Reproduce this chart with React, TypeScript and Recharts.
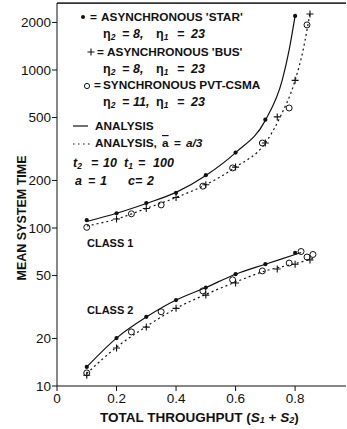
import React from "react";
import { ComposedChart, Line, Scatter, XAxis, YAxis, ReferenceLine } from "recharts";

// Mean system time vs total throughput, two priority classes (log y)

const W = 347;
const H = 429;
const INK = "#111";

const xTicks = [0, 0.2, 0.4, 0.6, 0.8];
const yTicks = [10, 20, 50, 100, 200, 500, 1000, 2000];

// analysis curves, class 1
const solid1: [number, number][] = [
  [0.1, 110], [0.2, 124], [0.3, 143], [0.4, 168], [0.5, 215], [0.6, 300],
  [0.7, 480], [0.757, 865], [0.78, 1340], [0.8, 2200],
];
const dotted1: [number, number][] = [
  [0.1, 103], [0.2, 114], [0.3, 133], [0.4, 156], [0.5, 188], [0.6, 243],
  [0.7, 345], [0.75, 505], [0.8, 860], [0.827, 1340], [0.85, 2300],
];

// analysis curves, class 2
const solid2: [number, number][] = [
  [0.1, 13.2], [0.2, 20.1], [0.3, 27.3], [0.4, 35], [0.5, 42], [0.6, 51],
  [0.7, 59], [0.8, 68], [0.82, 70],
];
const dotted2: [number, number][] = [
  [0.1, 12], [0.2, 17.6], [0.3, 23.8], [0.4, 31], [0.5, 38], [0.6, 45.5],
  [0.7, 53.5], [0.8, 59.5], [0.86, 64],
];

// simulation points
const star: [number, number][] = [
  [0.1, 112], [0.2, 124], [0.3, 144], [0.4, 167], [0.5, 216], [0.6, 300], [0.7, 485], [0.8, 2200],
  [0.1, 13.2], [0.2, 20.1], [0.3, 27.4], [0.4, 35], [0.5, 42], [0.6, 51], [0.7, 59], [0.8, 69.5],
];
const bus: [number, number][] = [
  [0.2, 114], [0.3, 133], [0.4, 156], [0.5, 188], [0.6, 243], [0.7, 345], [0.74, 505], [0.8, 860], [0.85, 2260],
  [0.1, 11.7], [0.2, 17.4], [0.3, 23.6], [0.4, 31], [0.5, 37.6], [0.6, 44.9], [0.74, 55], [0.8, 59], [0.85, 62.7],
];
const pvt: [number, number][] = [
  [0.1, 101], [0.25, 123], [0.35, 140], [0.49, 184], [0.59, 240], [0.69, 345], [0.78, 575], [0.84, 1930],
  [0.1, 12.1], [0.25, 22], [0.35, 29.5], [0.49, 40], [0.59, 47], [0.69, 53.5], [0.78, 60], [0.82, 71], [0.84, 65.5], [0.86, 68],
];

const pts = (a: [number, number][]) => a.map(([x, y]) => ({ x, y }));

const Dot = (p: any) => <circle cx={p.cx} cy={p.cy} r={2.1} fill={INK} />;
const Plus = (p: any) => (
  <path d={`M${p.cx - 3.5},${p.cy}h7M${p.cx},${p.cy - 3.5}v7`} stroke={INK} strokeWidth={1.1} />
);
const Ring = (p: any) => <circle cx={p.cx} cy={p.cy} r={3} fill="none" stroke={INK} strokeWidth={1} />;

const font = "'Liberation Sans', Arial, sans-serif";
const tickStyle = { fontSize: 13.5, fill: INK, fontFamily: font };
const lg = { fontSize: 11.8, fontWeight: 700, fill: INK, fontFamily: font } as const;
const it = { ...lg, fontSize: 12.5, fontStyle: "italic" } as const;

// one "η2 = 8,  η1 = 23" style row, pieces placed at fixed x
function EtaRow({ y, a, b }: { y: number; a: string; b: string }) {
  return (
    <text y={y} {...it}>
      <tspan x={103} fontStyle="normal">η</tspan>
      <tspan dy={3} fontSize={8.5}>2</tspan>
      <tspan x={122} dy={-3}>=</tspan>
      <tspan x={133}>{a}</tspan>
      <tspan x={156} fontStyle="normal">η</tspan>
      <tspan dy={3} fontSize={8.5}>1</tspan>
      <tspan x={177} dy={-3}>=</tspan>
      <tspan x={191}>{b}</tspan>
    </text>
  );
}

export default function App() {
  return (
    <div style={{ position: "absolute", left: 0, top: 0, width: W, height: H, background: "#fff" }}>
      <ComposedChart width={W} height={H} margin={{ top: 3, right: 1, bottom: 0, left: 0 }}>
        <XAxis
          type="number"
          dataKey="x"
          domain={[0, 0.971]}
          ticks={xTicks}
          tickFormatter={(v: number) => (v === 0 ? "0" : String(v))}
          stroke={INK}
          tick={tickStyle}
          tickSize={5}
          height={43}
          allowDataOverflow
        />
        <YAxis
          type="number"
          dataKey="y"
          scale="log"
          domain={[10, 2655]}
          ticks={yTicks}
          stroke={INK}
          tick={tickStyle}
          tickSize={5}
          tickMargin={1}
          width={57}
          allowDataOverflow
        />
        <YAxis
          yAxisId="r"
          orientation="right"
          type="number"
          scale="log"
          domain={[10, 2655]}
          ticks={yTicks}
          width={0}
          mirror
          axisLine={false}
          tick={false}
          tickSize={4}
          stroke={INK}
          allowDataOverflow
        />
        <ReferenceLine y={2650} stroke="#333" strokeWidth={1.6} ifOverflow="visible" />
        <Line data={pts(solid1)} dataKey="y" type="monotone" stroke={INK} strokeWidth={1.2} dot={false} isAnimationActive={false} />
        <Line data={pts(dotted1)} dataKey="y" type="monotone" stroke={INK} strokeWidth={1.2} strokeDasharray="2 3" dot={false} isAnimationActive={false} />
        <Line data={pts(solid2)} dataKey="y" type="monotone" stroke={INK} strokeWidth={1.2} dot={false} isAnimationActive={false} />
        <Line data={pts(dotted2)} dataKey="y" type="monotone" stroke={INK} strokeWidth={1.2} strokeDasharray="2 3" dot={false} isAnimationActive={false} />
        <Scatter data={pts(star)} dataKey="y" shape={Dot} isAnimationActive={false} />
        <Scatter data={pts(bus)} dataKey="y" shape={Plus} isAnimationActive={false} />
        <Scatter data={pts(pvt)} dataKey="y" shape={Ring} isAnimationActive={false} />
      </ComposedChart>

      <svg width={W} height={H} style={{ position: "absolute", left: 0, top: 0, pointerEvents: "none" }}>
        <g dominantBaseline="central">
          <circle cx={83} cy={17} r={2} fill={INK} />
          <text x={90} y={17} {...lg}>=</text>
          <text x={101} y={17} {...lg}>ASYNCHRONOUS 'STAR'</text>
          <EtaRow y={34} a="8," b="23" />

          <path d="M87.5,52h7M91,48.5v7" stroke={INK} strokeWidth={1.1} />
          <text x={97} y={52} {...lg}>=</text>
          <text x={107} y={52} {...lg}>ASYNCHRONOUS 'BUS'</text>
          <EtaRow y={69} a="8," b="23" />

          <circle cx={87} cy={86} r={2.6} fill="none" stroke={INK} strokeWidth={1} />
          <text x={94} y={85} {...lg}>=</text>
          <text x={103} y={85} {...lg}>SYNCHRONOUS PVT-CSMA</text>
          <EtaRow y={102} a="11," b="23" />

          <line x1={73} x2={88} y1={126} y2={126} stroke={INK} strokeWidth={1.2} />
          <text x={95} y={126} {...lg}>ANALYSIS</text>
          <line x1={73} x2={90} y1={144} y2={144} stroke={INK} strokeWidth={1.2} strokeDasharray="1.5 3.5" />
          <text y={143} {...lg}>
            <tspan x={95}>ANALYSIS,</tspan>
            <tspan x={162} textDecoration="overline">a</tspan>
            <tspan x={174}>=</tspan>
            <tspan x={186} fontStyle="italic">a/3</tspan>
          </text>

          <text y={163} {...it}>
            <tspan x={73}>t</tspan>
            <tspan dy={3} fontSize={8.5}>2</tspan>
            <tspan x={91} dy={-3}>=</tspan>
            <tspan x={103}>10</tspan>
            <tspan x={124}>t</tspan>
            <tspan dy={3} fontSize={8.5}>1</tspan>
            <tspan x={138} dy={-3}>=</tspan>
            <tspan x={153}>100</tspan>
          </text>
          <text y={181} {...it}>
            <tspan x={75}>a</tspan>
            <tspan x={88}>=</tspan>
            <tspan x={100}>1</tspan>
            <tspan x={128}>c=</tspan>
            <tspan x={147}>2</tspan>
          </text>

          <text x={87} y={243} {...lg} fontSize={11}>CLASS 1</text>
          <text x={87} y={310} {...lg} fontSize={11}>CLASS 2</text>
          <text y={417} {...lg} fontSize={13.5}>
            <tspan x={100}>TOTAL THROUGHPUT (</tspan>
            <tspan fontStyle="italic">S</tspan>
            <tspan dy={3} fontSize={9} fontStyle="italic">1</tspan>
            <tspan dy={-3}>{"\u00a0+\u00a0"}</tspan>
            <tspan fontStyle="italic">S</tspan>
            <tspan dy={3} fontSize={9} fontStyle="italic">2</tspan>
            <tspan dy={-3}>)</tspan>
          </text>
          <text x={22} y={218} {...lg} fontSize={12.5} textAnchor="middle" transform="rotate(-90 22 218)">
            MEAN SYSTEM TIME
          </text>
        </g>
      </svg>
    </div>
  );
}
